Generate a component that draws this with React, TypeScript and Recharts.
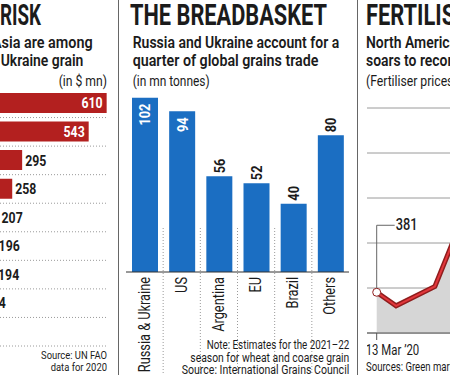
import React from 'react';
import {
  BarChart,
  Bar,
  ComposedChart,
  Area,
  Line,
  XAxis,
  YAxis,
  CartesianGrid,
  LabelList
} from 'recharts';

// left panel: grain imports by Asian buyers, $ mn (country names are cropped off)
const importerRanks = ['1', '2', '3', '4', '5', '6', '7', '8', '9'];
const importValues = [610, 543, 295, 258, 207, 196, 194, 144, 120];

// middle panel: grain exports, mn tonnes
const grainCountries = ['Russia & Ukraine', 'US', 'Argentina', 'EU', 'Brazil', 'Others'];
const grainExports = [102, 94, 56, 52, 40, 80];

// right panel: fertiliser price, months after 13 Mar '20
const fertMonths = [0, 1, 3, 4];
const fertPrices = [381, 321, 407, 620];
const fertGrid = [200, 400, 600, 800, 1000, 1200];
const fertTickLabels = ['13 Mar \u201920'];

const importData = importerRanks.map((name, i) => ({ name, value: importValues[i] }));
const grainData = grainCountries.map((name, i) => ({ name, value: grainExports[i] }));
const fertData = fertMonths.map((month, i) => ({ month, price: fertPrices[i] }));

const FONT = 'Roboto, sans-serif';
const INK = '#1b1b1b';
const RED = '#b3201f';
const BLUE = '#1b6ec2';
const GRAIN_W = 223;

type TxtProps = {
  x: number;
  y: number;
  size: number;
  weight?: number;
  anchor?: 'start' | 'middle' | 'end';
  sx?: number;
  len?: number;
  fill?: string;
  children: React.ReactNode;
};

const Txt = ({ x, y, size, weight = 400, anchor = 'start', sx = 1, len, fill = INK, children }: TxtProps) =>
  len ? (
    <text x={x} y={y} fontSize={size} fontWeight={weight} textAnchor={anchor} fill={fill}
      fontFamily={FONT} textLength={len} lengthAdjust="spacingAndGlyphs">
      {children}
    </text>
  ) : (
    <text transform={`translate(${x},${y}) scale(${sx},1)`} fontSize={size} fontWeight={weight}
      textAnchor={anchor} fill={fill} fontFamily={FONT}>
      {children}
    </text>
  );

const importLabel = (props: any) => {
  const x = Number(props.x), y = Number(props.y), w = Number(props.width), h = Number(props.height);
  const inside = w > 120;
  const tx = inside ? x + w - 4 : x + w + 3;
  return (
    <text transform={`translate(${tx},${y + h / 2}) scale(0.82,1)`} textAnchor={inside ? 'end' : 'start'}
      dominantBaseline="central" fontSize={15} fontWeight={700} fontFamily={FONT}
      fill={inside ? '#fff' : INK}>
      {props.value}
    </text>
  );
};

const grainLabel = (props: any) => {
  const x = Number(props.x), y = Number(props.y), w = Number(props.width);
  const inside = props.value > 90;
  const ty = inside ? y + 6 : y - 3;
  return (
    <text transform={`translate(${x + w / 2},${ty}) rotate(-90) scale(0.85,1)`}
      textAnchor={inside ? 'end' : 'start'} dominantBaseline="central" fontSize={15} fontWeight={700}
      fontFamily={FONT} fill={inside ? '#fff' : INK}>
      {props.value}
    </text>
  );
};

const GrainTick = (props: any) => {
  const { x, y, payload, index } = props;
  const band = GRAIN_W / grainCountries.length;
  return (
    <g>
      {index > 0 && (
        <line x1={x - band / 2} x2={x - band / 2} y1={y - 44} y2={y + 103}
          stroke="#9a9a9a" strokeDasharray="1 2" />
      )}
      <text transform={`translate(${x},${y + 5}) rotate(-90) scale(0.8,1)`} textAnchor="end"
        dominantBaseline="central" fontSize={16} fontFamily={FONT} fill={INK}>
        {payload.value}
      </text>
    </g>
  );
};

const FertTick = (props: any) => {
  const { x, y, index } = props;
  return (
    <g>
      <line x1={x} x2={x} y1={y} y2={y + 7} stroke="#555" />
      <text transform={`translate(${x - 11},${y + 22}) scale(0.76,1)`} fontSize={15}
        fontFamily={FONT} fill={INK}>
        {fertTickLabels[index]}
      </text>
    </g>
  );
};

const firstDot = (props: any) =>
  props.index === 0 ? (
    <circle key="d0" cx={props.cx} cy={props.cy} r={4} fill="#fff" stroke="#8f1d1d" strokeWidth={1} />
  ) : (
    <g key={`d${props.index}`} />
  );

const startLabel = (props: any) => {
  if (props.index !== 0) return null;
  const x = Number(props.x), y = Number(props.y);
  return (
    <g>
      <path d={`M${x},${y - 4} V${y - 67} H${x + 18}`} fill="none" stroke="#666" />
      <text transform={`translate(${x + 19},${y - 62}) scale(0.8,1)`} fontSize={16} fontWeight={500}
        fontFamily={FONT} fill={INK}>
        {props.value}
      </text>
    </g>
  );
};

export default function App() {
  return (
    <div style={{ position: 'absolute', left: 0, top: 0, width: 450, height: 375, overflow: 'hidden', background: '#fff' }}>
      {/* left: imports */}
      <div style={{ position: 'absolute', left: -57, top: 89 }}>
        <BarChart width={165} height={260} layout="vertical" data={importData}
          margin={{ top: 0, right: 0, bottom: 3, left: 0 }}>
          <XAxis type="number" domain={[0, 615]} hide />
          <YAxis type="category" dataKey="name" hide />
          <CartesianGrid vertical={false} stroke="#9a9a9a" strokeDasharray="1 2"
            horizontalCoordinatesGenerator={({ offset }: any) =>
              importerRanks.map((_, i) => offset.top + (offset.height * (i + 1)) / importerRanks.length)} />
          <Bar dataKey="value" fill={RED} barSize={20} isAnimationActive={false}>
            <LabelList dataKey="value" content={importLabel} />
          </Bar>
        </BarChart>
      </div>

      {/* middle: breadbasket */}
      <div style={{ position: 'absolute', left: 126, top: 84 }}>
        <BarChart width={GRAIN_W} height={291} data={grainData}
          margin={{ top: 0, right: 0, bottom: 0, left: 0 }}>
          <XAxis dataKey="name" height={103} interval={0} tickLine={false} tickSize={0} tickMargin={0}
            axisLine={{ stroke: '#333' }} tick={<GrainTick />} />
          <YAxis hide domain={[0, 110]} />
          <Bar dataKey="value" fill={BLUE} barSize={26} isAnimationActive={false}>
            <LabelList dataKey="value" content={grainLabel} />
          </Bar>
        </BarChart>
      </div>

      {/* right: fertiliser */}
      <div style={{ position: 'absolute', left: 367, top: 106 }}>
        <ComposedChart width={97} height={257} data={fertData}
          margin={{ top: 2, right: 0, bottom: 0, left: 0 }}>
          <CartesianGrid vertical={false} stroke="#9a9a9a" />
          <XAxis type="number" dataKey="month" domain={[-0.5, 4.5]} ticks={[0]} height={30}
            tickLine={false} tickSize={0} tickMargin={0} axisLine={{ stroke: '#555' }} tick={<FertTick />} />
          <YAxis hide domain={[200, 1200]} ticks={fertGrid} />
          <Area dataKey="price" fill="#d6d6d6" fillOpacity={1} stroke="none" baseValue={200}
            isAnimationActive={false} />
          <Line dataKey="price" stroke="#8f1d1d" strokeWidth={5} dot={false} isAnimationActive={false} />
          <Line dataKey="price" stroke="#e2363b" strokeWidth={2} dot={firstDot} isAnimationActive={false}>
            <LabelList dataKey="price" content={startLabel} />
          </Line>
        </ComposedChart>
      </div>

      <svg width={450} height={375} style={{ position: 'absolute', left: 0, top: 0, pointerEvents: 'none' }}>
        <line x1={118.5} x2={118.5} y1={0} y2={375} stroke="#666" />
        <line x1={357.5} x2={357.5} y1={0} y2={375} stroke="#666" />

        <Txt x={0} y={25} size={29.5} weight={700} len={41}>RISK</Txt>
        <Txt x={92.7} y={48} size={16} weight={600} sx={0.9} anchor="end">Asia are among</Txt>
        <Txt x={83.3} y={66} size={16} weight={600} sx={0.87} anchor="end">Ukraine grain</Txt>
        <Txt x={107} y={86} size={14} sx={0.87} anchor="end">(in $ mn)</Txt>
        <Txt x={107} y={359} size={11.5} sx={0.82} anchor="end">Source: UN FAO</Txt>
        <Txt x={107} y={371} size={11.5} sx={0.82} anchor="end">data for 2020</Txt>

        <Txt x={130} y={25} size={29.5} weight={700} len={197}>THE BREADBASKET</Txt>
        <Txt x={132.7} y={48} size={16} weight={600} len={206.5}>Russia and Ukraine account for a</Txt>
        <Txt x={132.7} y={66} size={16} weight={600} len={185.7}>quarter of global grains trade</Txt>
        <Txt x={132.7} y={86} size={14} len={77}>(in mn tonnes)</Txt>
        <Txt x={349.3} y={349} size={12} anchor="end" len={142.6}>Note: Estimates for the 2021–22</Txt>
        <Txt x={349.3} y={361.5} size={12} anchor="end" len={159}>season for wheat and coarse grain</Txt>
        <Txt x={349.3} y={374} size={12} anchor="end" len={167.6}>Source: International Grains Council</Txt>

        <Txt x={366} y={25} size={29.5} weight={700} sx={0.74}>FERTILISER</Txt>
        <Txt x={366} y={48} size={16} weight={600} sx={0.87}>North American fertiliser price</Txt>
        <Txt x={366} y={66} size={16} weight={600} sx={0.87}>soars to record high</Txt>
        <Txt x={366} y={86} size={14} sx={0.87}>(Fertiliser prices in $/tonne)</Txt>
        <Txt x={366} y={371} size={12} sx={0.8}>Sources: Green markets</Txt>
      </svg>
    </div>
  );
}
